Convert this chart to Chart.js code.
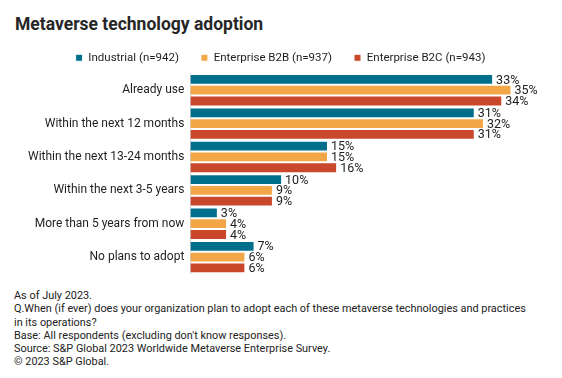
<!DOCTYPE html>
<html>
<head>
<meta charset="utf-8">
<script src="https://cdn.jsdelivr.net/npm/chart.js@4"></script>
<style>
  body { margin: 0; background: #fff; font-family: Roboto, sans-serif; color: #1e1e1e; }
  #wrap { position: relative; width: 562px; height: 378px; }
  #title { position: absolute; left: 15px; top: 14px; font-size: 17.5px; font-weight: bold; color: #262626; }
  #box { position: absolute; left: 0; top: 30px; width: 562px; height: 257px; }
  #notes { position: absolute; left: 14px; top: 289px; font-size: 10.9px; line-height: 13.3px; color: #222; }
</style>
</head>
<body>
<div id="wrap">
  <div id="title">Metaverse technology adoption</div>
  <div id="box"><canvas id="chart"></canvas></div>
  <div id="notes">
    As of July 2023.<br>
    Q.When (if ever) does your organization plan to adopt each of these metaverse technologies and practices<br>
    in its operations?<br>
    Base: All respondents (excluding don't know responses).<br>
    Source: S&amp;P Global 2023 Worldwide Metaverse Enterprise Survey.<br>
    &copy; 2023 S&amp;P Global.
  </div>
</div>
<script>
const categories = ['Already use', 'Within the next 12 months', 'Within the next 13-24 months',
  'Within the next 3-5 years', 'More than 5 years from now', 'No plans to adopt'];
const industrial = [33, 31, 15, 10, 3, 7];
const enterpriseB2B = [35, 32, 15, 9, 4, 6];
const enterpriseB2C = [34, 31, 16, 9, 4, 6];
const seriesNames = ['Industrial (n=942)', 'Enterprise B2B (n=937)', 'Enterprise B2C (n=943)'];
const colors = ['#006f8c', '#f2a646', '#c9472a'];

// value labels at the end of each bar
const valueLabels = {
  id: 'valueLabels',
  afterDatasetsDraw(chart) {
    const ctx = chart.ctx;
    ctx.save();
    ctx.font = '12.5px Roboto';
    ctx.fillStyle = '#1e1e1e';
    ctx.textBaseline = 'middle';
    chart.data.datasets.forEach((ds, i) => {
      chart.getDatasetMeta(i).data.forEach((bar, j) => {
        ctx.fillText(ds.data[j] + '%', bar.x + 3, bar.y + 1);
      });
    });
    ctx.restore();
  }
};

new Chart(document.getElementById('chart'), {
  type: 'bar',
  data: {
    labels: categories,
    datasets: [
      { label: seriesNames[0], data: industrial, backgroundColor: colors[0] },
      { label: seriesNames[1], data: enterpriseB2B, backgroundColor: colors[1] },
      { label: seriesNames[2], data: enterpriseB2C, backgroundColor: colors[2] }
    ]
  },
  options: {
    indexAxis: 'y',
    responsive: true,
    maintainAspectRatio: false,
    animation: false,
    layout: { padding: { left: 22, right: 23, top: 0, bottom: 0 } },
    datasets: {
      bar: { categoryPercentage: 0.97, barPercentage: 1, borderColor: '#fff', borderWidth: 1 }
    },
    plugins: {
      legend: {
        position: 'top',
        labels: { boxWidth: 7, boxHeight: 7, padding: 22, color: '#1e1e1e', font: { family: 'Roboto', size: 11.5 } }
      },
      tooltip: { enabled: false }
    },
    scales: {
      x: { min: 0, max: 38, display: false },
      y: {
        grid: { display: false, drawTicks: false },
        border: { color: '#d0d0d0', width: 1 },
        ticks: { color: '#1e1e1e', font: { family: 'Roboto', size: 12 }, padding: 6 }
      }
    }
  },
  plugins: [valueLabels]
});
</script>
</body>
</html>
